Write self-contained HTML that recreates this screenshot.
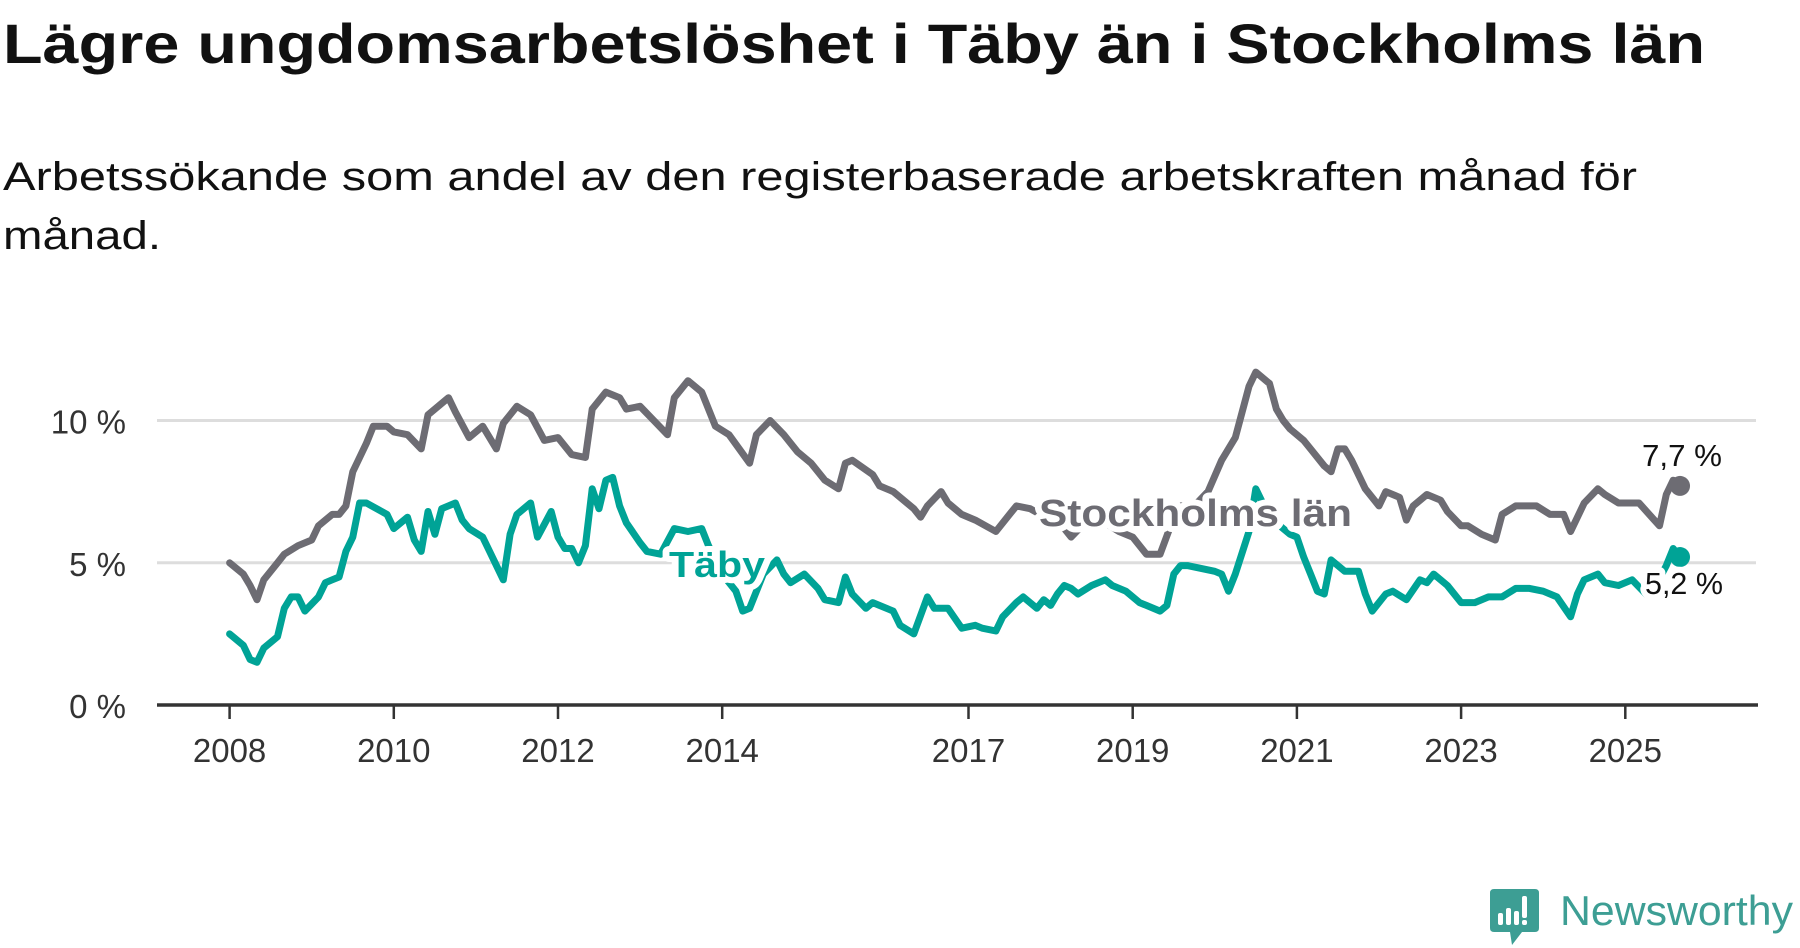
<!DOCTYPE html>
<html><head><meta charset="utf-8"><style>
html,body{margin:0;padding:0;background:#fff;}
svg{display:block;font-family:"Liberation Sans",sans-serif;}
</style></head><body>
<svg id="chart" width="1800" height="948" viewBox="0 0 1800 948" xmlns="http://www.w3.org/2000/svg">
<text x="3" y="63" font-size="56" font-weight="bold" fill="#111" textLength="1702" lengthAdjust="spacingAndGlyphs">Lägre ungdomsarbetslöshet i Täby än i Stockholms län</text>
<text x="3" y="190" font-size="40" fill="#111" textLength="1634" lengthAdjust="spacingAndGlyphs">Arbetssökande som andel av den registerbaserade arbetskraften månad för</text>
<text x="3" y="249" font-size="40" fill="#111" textLength="158" lengthAdjust="spacingAndGlyphs">månad.</text>
<g id="grid"></g>
<g id="axes"></g>
<g id="series"></g>
<g id="labels"></g>
<g>
<path d="M1494 889 H1535 Q1539 889 1539 893 V928 Q1539 932 1535 932 H1522 L1512 945 L1510 932 H1494 Q1490 932 1490 928 V893 Q1490 889 1494 889 Z" fill="#3d9e94"/>
<rect x="1498" y="913" width="5" height="12" rx="2" fill="#fff"/>
<rect x="1506" y="908" width="5" height="17" rx="2" fill="#fff"/>
<rect x="1514" y="911" width="5" height="14" rx="2" fill="#fff"/>
<rect x="1522" y="896" width="5" height="22" rx="2" fill="#fff"/>
<rect x="1522" y="920" width="5" height="5" rx="2" fill="#fff"/>
<text x="1560" y="925" font-size="42" fill="#3d9e94" textLength="233" lengthAdjust="spacingAndGlyphs">Newsworthy</text>
</g>
</svg>
<script>
const yTicks = [0, 5, 10];
const yTickLabels = ["0 %", "5 %", "10 %"];
const xTickYears = [2008, 2010, 2012, 2014, 2017, 2019, 2021, 2023, 2025];
const stockholmMonths = [0,2,3,4,5,7,8,10,12,13,15,16,17,18,20,21,23,24,26,28,29,30,32,33,35,37,39,40,42,44,46,48,50,52,53,55,57,58,60,62,64,65,67,69,71,73,76,77,79,81,83,85,87,89,90,91,94,95,97,100,101,102,104,105,107,109,112,114,115,117,120,122,123,125,127,128,130,132,134,136,138,139,141,143,145,147,149,150,152,153,154,155,157,158,160,161,162,163,164,166,168,169,171,172,173,175,177,178,180,181,183,185,186,188,191,193,195,196,198,200,201,203,206,209,210,211,212];
const stockholmValues = [5.0,4.6,4.2,3.7,4.4,5.0,5.3,5.6,5.8,6.3,6.7,6.7,7.0,8.2,9.2,9.8,9.8,9.6,9.5,9.0,10.2,10.4,10.8,10.3,9.4,9.8,9.0,9.9,10.5,10.2,9.3,9.4,8.8,8.7,10.4,11.0,10.8,10.4,10.5,10.0,9.5,10.8,11.4,11.0,9.8,9.5,8.5,9.5,10.0,9.5,8.9,8.5,7.9,7.6,8.5,8.6,8.1,7.7,7.5,6.9,6.6,7.0,7.5,7.1,6.7,6.5,6.1,6.7,7.0,6.9,6.5,6.2,5.9,6.4,6.7,6.4,6.1,5.9,5.3,5.3,6.6,7.0,7.0,7.5,8.6,9.4,11.2,11.7,11.3,10.4,10.0,9.7,9.3,9.0,8.4,8.2,9.0,9.0,8.6,7.6,7.0,7.5,7.3,6.5,7.0,7.4,7.2,6.8,6.3,6.3,6.0,5.8,6.7,7.0,7.0,6.7,6.7,6.1,7.1,7.6,7.4,7.1,7.1,6.3,7.4,7.9,7.7];
const tabyMonths = [0,2,3,4,5,7,8,9,10,11,13,14,15,16,17,18,19,20,23,24,25,26,27,28,29,30,31,33,34,35,37,38,40,41,42,44,45,47,48,49,50,51,52,53,54,55,56,57,58,60,61,63,65,67,69,70,72,74,75,76,78,80,81,82,84,86,87,89,90,91,93,94,97,98,100,102,103,105,107,109,110,112,113,115,116,118,119,120,121,122,123,124,126,128,129,131,133,134,136,137,138,139,140,142,144,145,146,147,149,150,151,153,155,156,157,158,159,160,161,163,165,166,167,169,170,172,174,175,176,177,178,180,182,184,186,188,190,192,194,196,197,198,200,201,203,205,207,208,210,211,212];
const tabyValues = [2.5,2.1,1.6,1.5,2.0,2.4,3.4,3.8,3.8,3.3,3.8,4.3,4.4,4.5,5.4,5.9,7.1,7.1,6.7,6.2,6.4,6.6,5.8,5.4,6.8,6.0,6.9,7.1,6.5,6.2,5.9,5.4,4.4,6.0,6.7,7.1,5.9,6.8,5.9,5.5,5.5,5.0,5.6,7.6,6.9,7.9,8.0,7.0,6.4,5.7,5.4,5.3,6.2,6.1,6.2,5.6,4.6,4.0,3.3,3.4,4.6,5.1,4.6,4.3,4.6,4.1,3.7,3.6,4.5,3.9,3.4,3.6,3.3,2.8,2.5,3.8,3.4,3.4,2.7,2.8,2.7,2.6,3.1,3.6,3.8,3.4,3.7,3.5,3.9,4.2,4.1,3.9,4.2,4.4,4.2,4.0,3.6,3.5,3.3,3.5,4.6,4.9,4.9,4.8,4.7,4.6,4.0,4.6,6.1,7.6,7.1,6.4,6.0,5.9,5.2,4.6,4.0,3.9,5.1,4.7,4.7,3.9,3.3,3.9,4.0,3.7,4.4,4.3,4.6,4.4,4.2,3.6,3.6,3.8,3.8,4.1,4.1,4.0,3.8,3.1,3.9,4.4,4.6,4.3,4.2,4.4,3.9,4.0,4.9,5.5,5.2];
const endLabels = ["7,7 %", "5,2 %"];

const NS = "http://www.w3.org/2000/svg";
const X0 = 229.6, PX_PER_YEAR = 82.1, Y0 = 705, PX_PER_PCT = 28.45;
function xScaleMonth(m){ return X0 + m / 12 * PX_PER_YEAR; }
function xScaleYear(y){ return X0 + (y - 2008) * PX_PER_YEAR; }
function yScale(v){ return Y0 - v * PX_PER_PCT; }
function mk(tag, attrs, parent){ const e = document.createElementNS(NS, tag); for (const k in attrs) e.setAttribute(k, attrs[k]); parent.appendChild(e); return e; }

const grid = document.getElementById('grid');
const axes = document.getElementById('axes');
yTicks.forEach((t, i) => {
  if (t !== 0) {
    const gl = mk('line', {x1:157, x2:1756, y1:yScale(t), y2:yScale(t), stroke:'#dddddd', 'stroke-width':3}, grid);
    
    
  }
  const tl = mk('text', {x:126, y:yScale(t)+13, 'font-size':33, fill:'#333', 'text-anchor':'end'}, axes);
  tl.textContent = yTickLabels[i];
  
  
});
const ax = mk('line', {x1:157, x2:1758, y1:Y0, y2:Y0, stroke:'#333', 'stroke-width':3.5}, axes);


xTickYears.forEach(y => {
  const x = xScaleYear(y);
  const tk = mk('line', {x1:x, x2:x, y1:Y0, y2:Y0+14, stroke:'#333', 'stroke-width':2.5}, axes);
  
  
  const tl = mk('text', {x:x, y:762, 'font-size':33, fill:'#333', 'text-anchor':'middle'}, axes);
  tl.textContent = String(y);
  
  
});

const series = document.getElementById('series');
function drawLine(months, values, color, name){
  const d = months.map((m, i) => (i ? 'L' : 'M') + xScaleMonth(m).toFixed(1) + ' ' + yScale(values[i]).toFixed(1)).join(' ');
  const p = mk('path', {d:d, fill:'none', stroke:color, 'stroke-width':7, 'stroke-linejoin':'round', 'stroke-linecap':'round'}, series);
  
  
  const n = months.length - 1;
  const c = mk('circle', {cx:xScaleMonth(months[n]), cy:yScale(values[n]), r:10, fill:color}, series);
  
  
}
drawLine(stockholmMonths, stockholmValues, '#6d6c73', 'stockholm');
drawLine(tabyMonths, tabyValues, '#00a396', 'taby');

const labels = document.getElementById('labels');
function halo(attrs, txt, name){
  const t = mk('text', Object.assign({stroke:'#fff', 'stroke-width':12, 'paint-order':'stroke', 'stroke-linejoin':'round'}, attrs), labels);
  t.textContent = txt;
  
  
}
halo({x:669, y:577, 'font-size':36, 'font-weight':'bold', fill:'#00a396', textLength:96, lengthAdjust:'spacingAndGlyphs'}, 'Täby', 'taby-series-label');
halo({x:1039, y:526, 'font-size':38, 'font-weight':'bold', fill:'#6d6c73', textLength:313, lengthAdjust:'spacingAndGlyphs'}, 'Stockholms län', 'stockholm-series-label');
halo({x:1642, y:466, 'font-size':31, fill:'#111', textLength:80, lengthAdjust:'spacingAndGlyphs'}, endLabels[0], 'stockholm-end-value');
halo({x:1645, y:594, 'font-size':31, fill:'#111', textLength:78, lengthAdjust:'spacingAndGlyphs'}, endLabels[1], 'taby-end-value');
</script>
</body></html>
